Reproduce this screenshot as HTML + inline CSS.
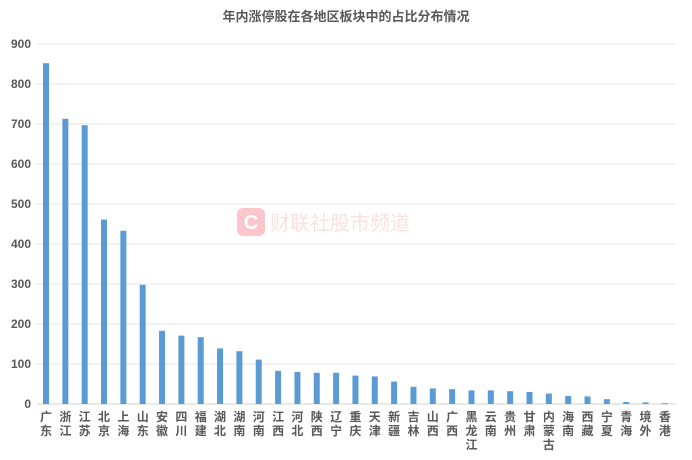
<!DOCTYPE html>
<html><head><meta charset="utf-8"><style>
body{margin:0;background:#fff;font-family:"Liberation Sans","Noto Sans CJK SC",sans-serif}
svg text{font-family:"Liberation Sans","Noto Sans CJK SC",sans-serif}
</style></head><body>
<svg id="c" width="692" height="455">
<text x="346" y="21" text-anchor="middle" font-size="13" font-weight="bold" fill="#595959">年内涨停股在各地区板块中的占比分布情况</text>
<g opacity="0.25">
<rect x="237" y="208" width="28" height="28" rx="6" fill="#e23"/>
<text x="251" y="229" text-anchor="middle" font-size="20" font-weight="bold" fill="#fff">C</text>
<text x="270" y="230" font-size="20" fill="#e88">财联社股市频道</text>
</g>
</svg>
<script>
const categories=["广东","浙江","江苏","北京","上海","山东","安徽","四川","福建","湖北","湖南","河南","江西","河北","陕西","辽宁","重庆","天津","新疆","吉林","山西","广西","黑龙江","云南","贵州","甘肃","内蒙古","海南","西藏","宁夏","青海","境外","香港"];
const values=[852,713,697,461,433,298,183,171,167,139,132,111,83,80,78,78,71,69,56,43,39,37,34,34,32,30,26,20,19,12,5,4,2];
const ticks=[0,100,200,300,400,500,600,700,800,900];
const svg=document.getElementById('c');const NS='http://www.w3.org/2000/svg';
const y0=404,yMax=900,pxH=360,x0=46,step=19.34,bw=6;
const y=v=>y0-v/yMax*pxH, x=i=>x0+i*step;
function mk(t,a){const e=document.createElementNS(NS,t);for(const k in a)e.setAttribute(k,a[k]);svg.appendChild(e);return e;}
ticks.forEach(t=>{
 const l=mk('line',{x1:37,x2:676,y1:y(t),y2:y(t),stroke:t===0?'#d0d0d0':'#e6e6e6','stroke-width':1});
 
 
 const tx=mk('text',{x:31,y:y(t)+4,'text-anchor':'end','font-size':12,'font-weight':'bold',fill:'#595959'});
 tx.textContent=t;
 
 
});
categories.forEach((c,i)=>{
 const r=mk('rect',{x:x(i)-bw/2,y:y(values[i]),width:bw,height:y0-y(values[i]),fill:'#5b9bd5'});
 
 
 [...c].forEach((ch,j)=>{
  const t=mk('text',{x:x(i),y:421+j*14,'text-anchor':'middle','font-size':12,'font-weight':'bold',fill:'#595959'});
  t.textContent=ch;
  
  
 });
});
</script>
</body></html>
